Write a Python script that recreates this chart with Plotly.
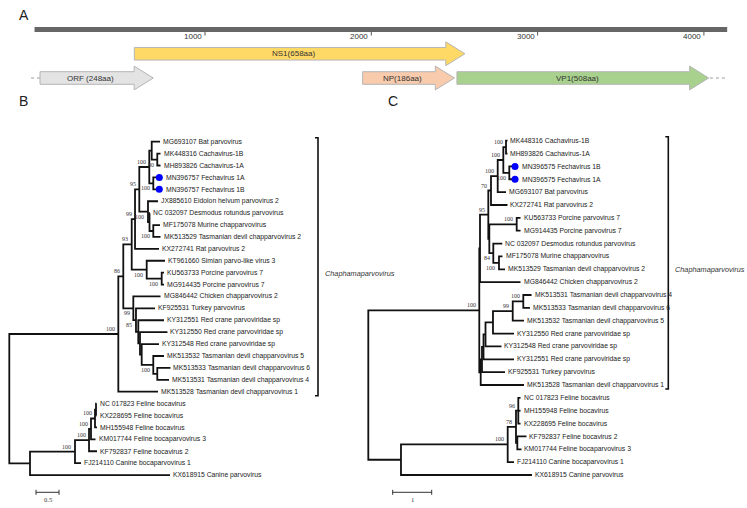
import plotly.graph_objects as go

W, H = 747, 508

# ---------------- Panel A : genome map (nt positions) ----------------
genome_start = -25
genome_end = 4140
tick_values = [1000, 2000, 3000, 4000]
tick_labels = ["1000", "2000", "3000", "4000"]
gene_labels = ["ORF (248aa)", "NS1(658aa)", "NP(186aa)", "VP1(508aa)"]
gene_start = [8, 575, 1948, 2515]
gene_end = [689, 2563, 2500, 4029]
gene_row = [2, 1, 2, 2]
flank_left = [-46, 8]
flank_right = [4036, 4140]

# ---------------- Panel B : tree (distance from root) ----------------
b_leaf_names = [
    "MG693107 Bat parvovirus", "MK448316 Cachavirus-1B", "MH893826 Cachavirus-1A",
    "MN396757 Fechavirus 1A", "MN396757 Fechavirus 1B",
    "JX885610 Eidolon helvum parvovirus 2", "NC 032097 Desmodus rotundus parvovirus",
    "MF175078 Murine chapparvovirus", "MK513529 Tasmanian devil chapparvovirus 2",
    "KX272741 Rat parvovirus 2", "KT961660 Simian parvo-like virus 3",
    "KU563733 Porcine parvovirus 7", "MG914435 Porcine parvovirus 7",
    "MG846442 Chicken chapparvovirus 2", "KF925531 Turkey parvovirus",
    "KY312551 Red crane parvoviridae sp", "KY312550 Red crane parvoviridae sp",
    "KY312548 Red crane parvoviridae sp", "MK513532 Tasmanian devil chapparvovirus 5",
    "MK513533 Tasmanian devil chapparvovirus 6", "MK513531 Tasmanian devil chapparvovirus 4",
    "MK513528 Tasmanian devil chapparvovirus 1",
    "NC 017823 Feline bocavirus", "KX228695 Feline bocavirus", "MH155948 Feline bocavirus",
    "KM017744 Feline bocaparvovirus 3", "KF792837 Feline bocavirus 2",
    "FJ214110 Canine bocaparvovirus 1", "KX618915 Canine parvovirus",
]
b_leaf_parent = ["nbat", "ncach", "ncach", "nfech", "nfech", "neid", "nnc", "nmf", "nmf",
                 "n99", "nsim", "npor", "npor", "nchk", "nkf", "nky51", "nky50", "nky48",
                 "ntd", "ntdp", "ntdp", "chap", "nA", "nA", "nB", "nC", "nD", "nE", "nF"]
b_leaf_depth = [3.276, 3.287, 3.287, 3.261, 3.261, 3.233, 3.059, 3.276, 3.287,
                3.254, 3.385, 3.363, 3.363, 3.287, 3.167, 3.363, 3.439, 3.254,
                3.363, 3.504, 3.472, 3.233, 1.896, 1.896, 1.907, 1.874, 1.907, 1.559, 3.493]
b_int_names = ["root", "chap", "n86", "n93", "n99", "n95", "nbc", "nbat", "ncach", "nfech",
               "neid", "nnc", "nmf", "nsim", "npor", "nchk", "nkf", "nky51", "nky50",
               "nky48", "ntd", "ntdp", "nF", "nE", "nD", "nC", "nB", "nA"]
b_int_parent = [None, "root", "chap", "n86", "n93", "n99", "n95", "nbc", "nbat", "nbc",
                "n95", "neid", "nnc", "n93", "nsim", "n86", "nchk", "nkf", "nky51",
                "nky50", "nky48", "ntd", "root", "nF", "nE", "nD", "nC", "nB"]
b_int_depth = [0.0, 2.370, 2.478, 2.661, 2.733, 2.826, 3.043, 3.096, 3.217, 3.130,
               3.015, 3.048, 3.130, 2.987, 3.313, 2.696, 2.754, 2.804, 2.841,
               2.878, 3.130, 3.217, 0.450, 1.428, 1.733, 1.776, 1.863, 1.885]
b_int_support = ["", "100", "86", "93", "99", "95", "100", "", "80", "100",
                 "100", "", "100", "100", "100", "99", "85", "", "",
                 "", "100", "", "", "100", "100", "100", "100", ""]
b_marked = ["MN396757 Fechavirus 1A", "MN396757 Fechavirus 1B"]
b_clade_last = "MK513528 Tasmanian devil chapparvovirus 1"
b_scale = 0.5

# ---------------- Panel C : tree (distance from root) ----------------
c_leaf_names = [
    "MK448316 Cachavirus-1B", "MH893826 Cachavirus-1A",
    "MN396575 Fechavirus 1B", "MN396575 Fechavirus 1A",
    "MG693107 Bat parvovirus", "KX272741 Rat parvovirus 2",
    "KU563733 Porcine parvovirus 7", "MG914435 Porcine parvovirus 7",
    "NC 032097 Desmodus rotundus parvovirus", "MF175078 Murine chapparvovirus",
    "MK513529 Tasmanian devil chapparvovirus 2", "MG846442 Chicken chapparvovirus 2",
    "MK513531 Tasmanian devil chapparvovirus 4", "MK513533 Tasmanian devil chapparvovirus 6",
    "MK513532 Tasmanian devil chapparvovirus 5", "KY312550 Red crane parvoviridae sp",
    "KY312548 Red crane parvoviridae sp", "KY312551 Red crane parvoviridae sp",
    "KF925531 Turkey parvovirus", "MK513528 Tasmanian devil chapparvovirus 1",
    "NC 017823 Feline bocavirus", "MH155948 Feline bocavirus", "KX228695 Feline bocavirus",
    "KF792837 Feline bocavirus 2", "KM017744 Feline bocaparvovirus 3",
    "FJ214110 Canine bocaparvovirus 1", "KX618915 Canine parvovirus",
]
c_leaf_parent = ["ncach", "ncach", "nfech", "nfech", "n3", "n4", "npor", "npor", "n7",
                 "nmf", "nmf", "nA", "ntdp", "ntdp", "ntdg", "nky50", "nky48", "nky51",
                 "nkf", "nB", "nC", "nC", "nC", "npair", "npair", "nE", "nF"]
c_leaf_depth = [3.569, 3.569, 3.762, 3.762, 3.531, 3.569, 3.903, 3.903, 3.436,
                3.441, 3.505, 3.903, 4.185, 4.146, 3.992, 3.736, 3.415, 3.736,
                3.505, 3.992, 3.903, 3.903, 3.903, 4.056, 3.928, 3.736, 4.197]
c_int_names = ["root", "chap", "nA", "n5", "n4", "n3", "n2", "ncach", "nfech", "n6",
               "npor", "n7", "nmf", "nB", "nkf", "nky51", "nky48", "nky50", "ntdg",
               "ntdp", "nF", "nE", "nD", "nC", "npair"]
c_int_parent = [None, "root", "chap", "nA", "n5", "n4", "n3", "n2", "n2", "n5",
                "n6", "n6", "n7", "chap", "nB", "nkf", "nky51", "nky48", "nky50",
                "ntdg", "root", "nF", "nE", "nD", "nD"]
c_int_depth = [0.0, 2.846, 2.864, 3.077, 3.146, 3.318, 3.462, 3.531, 3.615, 3.103,
               3.805, 3.205, 3.351, 2.882, 2.915, 2.954, 3.005, 3.197, 3.703,
               3.974, 0.838, 3.574, 3.787, 3.846, 3.821]
c_int_support = ["", "100", "", "95", "70", "100", "100", "100", "100", "",
                 "100", "84", "100", "", "", "", "", "", "99",
                 "100", "", "100", "78", "96", ""]
c_marked = ["MN396575 Fechavirus 1B", "MN396575 Fechavirus 1A"]
c_clade_last = "MK513528 Tasmanian devil chapparvovirus 1"
c_scale = 1
clade_name = "Chaphamaparvovirus"

# ---------------- styling / placement constants ----------------
SANS = "Arial, Liberation Sans, sans-serif"
SERIF = "Times New Roman, Liberation Serif, serif"
gene_fill = ["#e3e3e3", "#ffd966", "#f8cbad", "#a9d18e"]
gene_edge = "#b5b5b5"
HEAD_NT = 115
BODY_HALF = 0.26
HEAD_HALF = 0.49

# pixel mappings for each panel's axes
A_X0, A_PXU = 38.7, 0.1663      # nt -> px
A_Y0, A_PYU = 29.5, 24.25        # row -> px
B_X0, B_PXU = 9.3, 46.0          # distance -> px
B_Y0, B_PYU = 141.7, 11.905      # leaf index -> px
C_X0, C_PXU = 368.3, 39.0
C_Y0, C_PYU = 140.7, 12.858


def rng(p0, per, total):
    return [(0 - p0) / per, (total - p0) / per]


fig = go.Figure()

# ---------------- Panel A drawing ----------------
fig.add_trace(go.Scatter(x=[genome_start, genome_end], y=[0, 0], mode="lines",
                         line=dict(color="#666666", width=5), hoverinfo="skip",
                         xaxis="x", yaxis="y"))
tx, ty = [], []
for t in tick_values:
    tx += [t, t, None]
    ty += [0.08, 0.25, None]
fig.add_trace(go.Scatter(x=tx, y=ty, mode="lines", line=dict(color="#555555", width=1),
                         hoverinfo="skip", xaxis="x", yaxis="y"))
for fl in (flank_left, flank_right):
    fig.add_trace(go.Scatter(x=fl, y=[2, 2], mode="lines",
                             line=dict(color="#9a9a9a", width=1.2, dash="3px,3px"),
                             hoverinfo="skip", xaxis="x", yaxis="y"))
for lab, s, e, r, col in zip(gene_labels, gene_start, gene_end, gene_row, gene_fill):
    hs = e - HEAD_NT
    px = [s, hs, hs, e, hs, hs, s, s]
    py = [r - BODY_HALF, r - BODY_HALF, r - HEAD_HALF, r, r + HEAD_HALF, r + BODY_HALF,
          r + BODY_HALF, r - BODY_HALF]
    fig.add_trace(go.Scatter(x=px, y=py, mode="lines", fill="toself", fillcolor=col,
                             line=dict(color=gene_edge, width=1), hoverinfo="skip",
                             xaxis="x", yaxis="y"))

annotations = []
for t, lab in zip(tick_values, tick_labels):
    annotations.append(dict(x=t, y=0.3, xref="x", yref="y", text=lab, showarrow=False,
                            xanchor="right", yanchor="middle", xshift=-1,
                            font=dict(family=SANS, size=8, color="#333333")))
for lab, s, e, r in zip(gene_labels, gene_start, gene_end, gene_row):
    annotations.append(dict(x=(s + e) / 2 - HEAD_NT * 0.3, y=r, xref="x", yref="y",
                            text=lab, showarrow=False, xanchor="center", yanchor="middle",
                            font=dict(family=SANS, size=8, color="#333333")))


# ---------------- tree drawing ----------------
def draw_tree(leaf_names, leaf_parent, leaf_depth, int_names, int_parent, int_depth,
              int_support, marked, clade_last, scale, xa, ya, pxu, pyu,
              bracket_x, scale_x, scale_y, clade_dy):
    depth = dict(zip(leaf_names, leaf_depth))
    depth.update(zip(int_names, int_depth))
    parent = dict(zip(leaf_names, leaf_parent))
    parent.update(zip(int_names, int_parent))
    children = {n: [] for n in int_names}
    for n in leaf_names + int_names:
        if parent[n] is not None:
            children[parent[n]].append(n)
    y = {n: float(i) for i, n in enumerate(leaf_names)}

    def gety(n):
        if n not in y:
            ys = [gety(c) for c in children[n]]
            y[n] = (min(ys) + max(ys)) / 2
        return y[n]

    for n in int_names:
        gety(n)

    xs, ys = [], []
    for n in int_names:
        kids = sorted(children[n], key=lambda c: y[c])
        a, b = kids[0], kids[-1]
        xs += [depth[a], depth[n], depth[n], depth[b], None]
        ys += [y[a], y[a], y[b], y[b], None]
        for c in kids[1:-1]:
            xs += [depth[n], depth[c], None]
            ys += [y[c], y[c], None]
    fig.add_trace(go.Scatter(x=xs, y=ys, mode="lines",
                             line=dict(color="#111111", width=1.8), hoverinfo="skip",
                             xaxis=xa, yaxis=ya))
    # marked leaves
    fig.add_trace(go.Scatter(x=[depth[m] for m in marked], y=[y[m] for m in marked],
                             mode="markers", marker=dict(color="#0000ff", size=7),
                             hoverinfo="skip", xaxis=xa, yaxis=ya))
    # leaf labels
    for n in leaf_names:
        annotations.append(dict(x=depth[n], y=y[n], xref=xa, yref=ya, text=n,
                                showarrow=False, xanchor="left", yanchor="middle",
                                xshift=5 if n in marked else 1,
                                font=dict(family=SANS, size=6.8, color="#222222")))
    # bootstrap labels
    for n, s in zip(int_names, int_support):
        if not s:
            continue
        p = parent[n]
        upper = y[n] == min(y[c] for c in children[p])
        annotations.append(dict(x=depth[n], y=y[n], xref=xa, yref=ya, text=s,
                                showarrow=False, xanchor="right", yanchor="middle",
                                xshift=-1.5, yshift=5 if upper else -5,
                                font=dict(family=SERIF, size=6, color="#333333")))
    # clade bracket
    y0 = y[leaf_names[0]] - 4 / pyu
    y1 = y[clade_last] + 4 / pyu
    tk = 3 / pxu
    fig.add_trace(go.Scatter(x=[bracket_x - tk, bracket_x, bracket_x, bracket_x - tk],
                             y=[y0, y0, y1, y1], mode="lines",
                             line=dict(color="#111111", width=1.6), hoverinfo="skip",
                             xaxis=xa, yaxis=ya))
    annotations.append(dict(x=bracket_x, y=(y0 + y1) / 2 + clade_dy / pyu, xref=xa, yref=ya,
                            text="<i>" + clade_name + "</i>", showarrow=False,
                            xanchor="left", yanchor="middle", xshift=5,
                            font=dict(family=SANS, size=7.3, color="#333333")))
    # scale bar
    tv = 2.5 / pyu
    fig.add_trace(go.Scatter(
        x=[scale_x, scale_x + scale, None, scale_x, scale_x, None, scale_x + scale, scale_x + scale],
        y=[scale_y, scale_y, None, scale_y - tv, scale_y + tv, None, scale_y - tv, scale_y + tv],
        mode="lines", line=dict(color="#333333", width=1), hoverinfo="skip",
        xaxis=xa, yaxis=ya))
    annotations.append(dict(x=scale_x + scale / 2, y=scale_y + 7.5 / pyu, xref=xa, yref=ya,
                            text=str(scale), showarrow=False, xanchor="center",
                            yanchor="middle",
                            font=dict(family=SERIF, size=6.5, color="#333333")))


draw_tree(b_leaf_names, b_leaf_parent, b_leaf_depth, b_int_names, b_int_parent, b_int_depth,
          b_int_support, b_marked, b_clade_last, b_scale, "x2", "y2", B_PXU, B_PYU,
          bracket_x=(318 - B_X0) / B_PXU, scale_x=(36 - B_X0) / B_PXU,
          scale_y=(492.3 - B_Y0) / B_PYU, clade_dy=7)
draw_tree(c_leaf_names, c_leaf_parent, c_leaf_depth, c_int_names, c_int_parent, c_int_depth,
          c_int_support, c_marked, c_clade_last, c_scale, "x3", "y3", C_PXU, C_PYU,
          bracket_x=(668.3 - C_X0) / C_PXU, scale_x=(392.7 - C_X0) / C_PXU,
          scale_y=(492.3 - C_Y0) / C_PYU, clade_dy=7)

# panel letters
for letter, lx, ly in [("A", 24, 15), ("B", 24, 101), ("C", 393, 101)]:
    annotations.append(dict(x=lx / W, y=1 - ly / H, xref="paper", yref="paper", text=letter,
                            showarrow=False, xanchor="center", yanchor="middle",
                            font=dict(family=SANS, size=14, color="#222222")))

ax = dict(visible=False, showgrid=False, zeroline=False, fixedrange=True, domain=[0, 1])
ya_ = rng(A_Y0, A_PYU, H)
yb_ = rng(B_Y0, B_PYU, H)
yc_ = rng(C_Y0, C_PYU, H)
fig.update_layout(
    width=W, height=H, margin=dict(l=0, r=0, t=0, b=0),
    paper_bgcolor="white", plot_bgcolor="rgba(0,0,0,0)", showlegend=False,
    xaxis=dict(ax, range=rng(A_X0, A_PXU, W), anchor="y"),
    yaxis=dict(ax, range=[ya_[1], ya_[0]], anchor="x"),
    xaxis2=dict(ax, range=rng(B_X0, B_PXU, W), anchor="y2"),
    yaxis2=dict(ax, range=[yb_[1], yb_[0]], anchor="x2"),
    xaxis3=dict(ax, range=rng(C_X0, C_PXU, W), anchor="y3"),
    yaxis3=dict(ax, range=[yc_[1], yc_[0]], anchor="x3"),
    annotations=annotations,
)
fig.write_html("out.html", config={"displayModeBar": False},
               post_script="document.body.style.margin='0';document.body.style.overflow='hidden';")
